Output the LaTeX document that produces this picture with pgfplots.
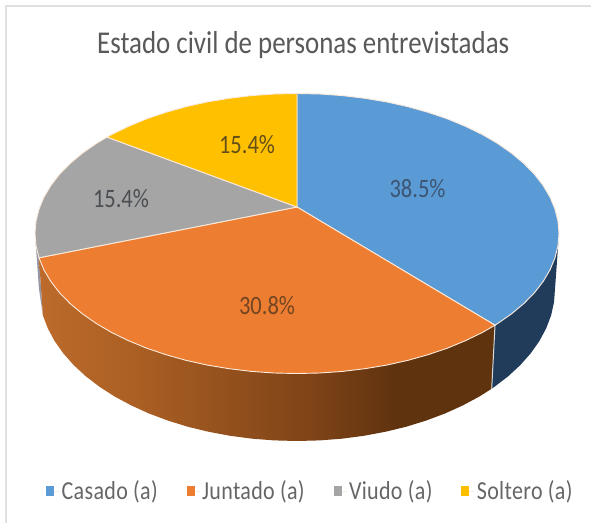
\documentclass[border=0pt]{standalone}
\usepackage{fontspec}
\setmainfont{Carlito}
\usepackage{graphicx}
\usepackage{pgfplots}
\pgfplotsset{compat=1.18}
\definecolor{cblue}{HTML}{5B9BD5}
\definecolor{corange}{HTML}{ED7D31}
\definecolor{cgray}{HTML}{A5A5A5}
\definecolor{cgold}{HTML}{FFC000}
\definecolor{sa}{HTML}{BC6B2B}
\definecolor{sb}{HTML}{AC6024}
\definecolor{sc}{HTML}{7E4317}
\definecolor{sd}{HTML}{60330F}
\definecolor{cedge}{HTML}{FCEADB}
\pgfdeclarehorizontalshading{orangeside}{100bp}{color(0bp)=(sa); color(25bp)=(sa); color(35bp)=(sb); color(55bp)=(sc); color(64bp)=(sd); color(75bp)=(sd); color(100bp)=(sd)}
\newcommand{\tall}[1]{\scalebox{1}[1.18]{#1}}
\begin{document}
\begin{tikzpicture}
\begin{axis}[
  scale only axis, width=591bp, height=523bp,
  xmin=0, xmax=591, ymin=0, ymax=523, y dir=reverse,
  axis lines=none, clip=true,
  title={\fontsize{26.9bp}{30bp}\selectfont\tall{Estado civil de personas entrevistadas}},
  title style={at={(0.513,0.902)}, anchor=center, text=black!65, inner sep=0pt},
  legend columns=4,
  legend style={draw=none, fill=none, at={(0.0775,0.061)}, anchor=west, inner sep=0pt, outer sep=0pt,
    font=\fontsize{22bp}{25bp}\selectfont\addfontfeatures{LetterSpace=1.5}, text=black!60,
    /tikz/every even column/.append style={column sep=26.5bp}},
  legend image code/.code={\path (0bp,0bp) -- (13bp,0bp);\path[#1,draw=none] (0bp,-5bp) rectangle (8bp,5bp);},
]
% background and frame
\addplot[draw=none, fill=white, forget plot] coordinates {(0,0) (591,0) (591,523) (0,523)} --cycle;
\addplot[draw=black!12, line width=1.5bp, forget plot] coordinates {(6,523) (6,6) (591,6)};
% sides
\addplot[draw=none, fill=black!35!blue!10!gray!75, forget plot] coordinates {(35,233.5) (36,245.7) (39,257.8) (42.9,315.4) (39,289)} --cycle;
\addplot[draw=none, shade, shading=orangeside, forget plot] coordinates {
 (495,325.2) (482.3,332.5) (465.4,340.7) (447.3,348.2) (428,354.7) (407.7,360.4) (386.6,365.1) (364.8,368.7) (342.5,371.4) (319.8,373) (297,373.5) (274.2,373) (251.5,371.4) (229.2,368.7) (207.4,365.1) (186.3,360.4) (166,354.7) (146.7,348.2) (128.6,340.7) (111.7,332.5) (96.3,323.5) (82.4,313.8) (70.1,303.5) (59.5,292.7) (50.8,281.4) (43.9,269.7) (39,257.8)
 (42.9,315.4) (47.8,328.3) (54.6,341) (63.2,353.2) (73.6,365) (85.7,376.2) (99.4,386.7) (114.6,396.5) (131.2,405.4) (149,413.5) (168,420.6) (188,426.8) (208.8,431.8) (230.2,435.8) (252.2,438.7) (274.5,440.4) (297,441) (319.5,440.4) (341.8,438.7) (363.8,435.8) (385.2,431.8) (406,426.8) (426,420.6) (445,413.5) (462.8,405.4) (479.4,396.5) (491.7,388.7)} --cycle;
\addplot[draw=none, fill={rgb,255:red,32;green,60;blue,90}, forget plot] coordinates {
 (559,233.5) (558,245.7) (555,257.8) (550.1,269.7) (543.2,281.4) (534.5,292.7) (523.9,303.5) (511.6,313.8) (497.7,323.5) (495,325.2)
 (491.7,388.7) (494.6,386.7) (508.3,376.2) (520.4,365) (530.8,353.2) (539.4,341) (546.2,328.3) (551.1,315.4) (554,302.3) (555,289)} --cycle;
\addplot[draw=black!15, line width=1bp, forget plot] coordinates {(495,325.2) (491.7,388.7)};
% top faces
\addplot[fill=cblue, draw=cedge, line width=0.9bp] coordinates {
 (297,207) (297,93.5) (319.8,94) (342.5,95.6) (364.8,98.3) (386.6,101.9) (407.7,106.6) (428,112.3) (447.3,118.8) (465.4,126.3) (482.3,134.5) (497.7,143.5) (511.6,153.2) (523.9,163.5) (534.5,174.3) (543.2,185.6) (550.1,197.3) (555,209.2) (558,221.3) (559,233.5) (558,245.7) (555,257.8) (550.1,269.7) (543.2,281.4) (534.5,292.7) (523.9,303.5) (511.6,313.8) (497.7,323.5) (495,325.2)} --cycle;
\addlegendentry{\tall{Casado (a)}}
\addplot[fill=corange, draw=cedge, line width=0.9bp] coordinates {
 (297,207) (495,325.2) (482.3,332.5) (465.4,340.7) (447.3,348.2) (428,354.7) (407.7,360.4) (386.6,365.1) (364.8,368.7) (342.5,371.4) (319.8,373) (297,373.5) (274.2,373) (251.5,371.4) (229.2,368.7) (207.4,365.1) (186.3,360.4) (166,354.7) (146.7,348.2) (128.6,340.7) (111.7,332.5) (96.3,323.5) (82.4,313.8) (70.1,303.5) (59.5,292.7) (50.8,281.4) (43.9,269.7) (39,257.8)} --cycle;
\addlegendentry{\tall{Juntado (a)}}
\addplot[fill=cgray, draw=cedge, line width=0.9bp] coordinates {
 (297,207) (39,257.8) (36,245.7) (35,233.5) (36,221.3) (39,209.2) (43.9,197.3) (50.8,185.6) (59.5,174.3) (70.1,163.5) (82.4,153.2) (96.3,143.5) (107,137.1)} --cycle;
\addlegendentry{\tall{Viudo (a)}}
\addplot[fill=cgold, draw=cedge, line width=0.9bp] coordinates {
 (297,207) (107,137.1) (111.7,134.5) (128.6,126.3) (146.7,118.8) (166,112.3) (186.3,106.6) (207.4,101.9) (229.2,98.3) (251.5,95.6) (274.2,94) (297,93.5)} --cycle;
\addlegendentry{\tall{Soltero (a)}}
\node[font=\fontsize{22.5bp}{25bp}\selectfont, text={rgb,255:red,60;green,85;blue,115}] at (axis cs:417.5,189) {\tall{38.5\%}};
\node[font=\fontsize{22.5bp}{25bp}\selectfont, text={rgb,255:red,115;green,70;blue,35}] at (axis cs:267,306) {\tall{30.8\%}};
\node[font=\fontsize{22.5bp}{25bp}\selectfont, text={rgb,255:red,75;green,78;blue,82}] at (axis cs:121,199) {\tall{15.4\%}};
\node[font=\fontsize{22.5bp}{25bp}\selectfont, text={rgb,255:red,100;green,80;blue,25}] at (axis cs:247,145) {\tall{15.4\%}};
\end{axis}
\end{tikzpicture}
\end{document}
